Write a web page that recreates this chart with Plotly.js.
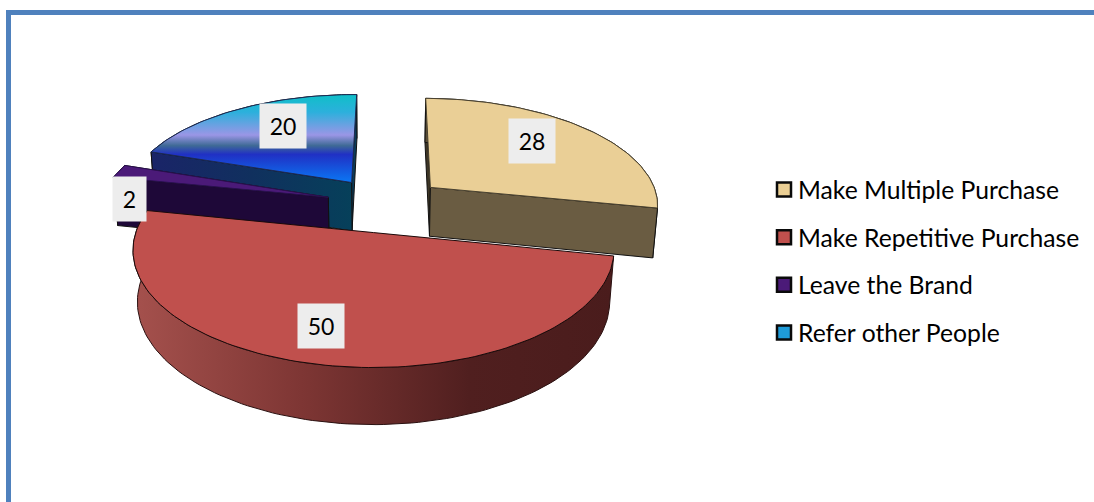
<!DOCTYPE html>
<html><head><meta charset="utf-8">
<script src="https://cdn.plot.ly/plotly-3.0.1.min.js"></script>
<style>html,body{margin:0;padding:0;background:#fff}#c{width:1094px;height:502px}</style>
</head><body><div id="c"></div>
<script>
const categories = ["Make Multiple Purchase","Make Repetitive Purchase","Leave the Brand","Refer other People"];
const values = [28,50,2,20];
const swatchColors = ["#EBCF94","#C0504D","#4B1A78","#1E9BD8"];
const labelRadius = [0.7,0.75,0.96,0.7];
const labelSweep = [0.45,0.52,0.5,0.58];
const labelDepth = [0,0,0.56,0];
const labelWidth = [44,44,31,44];

// camera / projection of the pie
const rotation = 0.6, explosion = 0.26;
const cam = {Xc:376,Yc:233.4,A:238,B:115,H:52,k:0.15,m:0.018};
const centreShift = [0.041,0.262];

const total = values.reduce((a,b)=>a+b,0);
const rad = d=>d*Math.PI/180;
function proj(u,v,z){const w=1+cam.k*v+cam.m*z;return [cam.Xc+cam.A*u/w,cam.Yc+(-cam.B*v+cam.H*z)/w];}
let acc = rotation;
const slices = values.map((val,i)=>{
  const a0=acc,a1=acc+val/total*360;acc=a1;const mid=(a0+a1)/2;
  return {a0,a1,mid,ox:centreShift[0]+explosion*Math.sin(rad(mid)),oy:centreShift[1]+explosion*Math.cos(rad(mid))};
});
function rim(s,a,z){return proj(s.ox+Math.sin(rad(a)),s.oy+Math.cos(rad(a)),z);}
function apex(s,z){return proj(s.ox,s.oy,z);}
function arc(s,a0,a1,z){const n=Math.max(3,Math.ceil(Math.abs(a1-a0)/1.5));const o=[];for(let i=0;i<=n;i++)o.push(rim(s,a0+(a1-a0)*i/n,z));return o;}
function poly(pts,fill,grad,lineC,lineW){
  const x=pts.map(p=>p[0]).concat(pts[0][0]),y=pts.map(p=>p[1]).concat(pts[0][1]);
  const t={type:'scatter',mode:'lines',x,y,fill:'toself',hoverinfo:'skip',showlegend:false,
    line:{color:lineC||'#111',width:lineW===undefined?1:lineW},fillcolor:fill};
  if(grad)t.fillgradient=grad;return t;
}
function radial(s,a,style){return poly([apex(s,0),rim(s,a,0),rim(s,a,1),apex(s,1)],style.fill||style,style.grad);}
function outer(s,style){return poly(arc(s,s.a0,s.a1,0).concat(arc(s,s.a1,s.a0,1)),style.fill||style,style.grad);}
function topFace(s,fill,grad,lc){return poly([apex(s,0)].concat(arc(s,s.a0,s.a1,0)),fill,grad,lc||'#222',1);}

const [sY,sR,sP,sB]=slices;
const blueTop={type:'vertical',colorscale:[[0,'#0A78F5'],[0.32,'#2030C4'],[0.42,'#3F6A96'],[0.54,'#9A96E6'],[0.8,'#2CB0DC'],[1,'#0FBFC8']]};
const blueWall={type:'horizontal',colorscale:[[0,'#1A2468'],[0.5,'#10305E'],[1,'#06405A']]};
const redWall={type:'horizontal',colorscale:[[0,'#A5514D'],[0.35,'#7E3634'],[0.7,'#501F1F'],[1,'#4A1C1C']]};
const traces=[];
// legend entries
categories.forEach((c,i)=>traces.push({type:'scatter',mode:'markers',x:[null],y:[null],name:c,legendgroup:'g'+i,
  marker:{symbol:'square',size:14,color:swatchColors[i],line:{color:'#0a0a0a',width:2.5}},hoverinfo:'skip'}));
// blue
traces.push(outer(sB,'#0A3A55'),radial(sB,sB.a1,'#0B3A58'),radial(sB,sB.a0,{grad:blueWall,fill:'#10305E'}));
traces.push(topFace(sB,'#2090D0',blueTop,'#1c2a55'));
// purple
traces.push(outer(sP,'#1E0A3A'),radial(sP,sP.a1,'#1E0838'),radial(sP,sP.a0,'#1E0838'));
traces.push(topFace(sP,swatchColors[2],null,'#2a1050'));
// yellow
traces.push(radial(sY,sY.a0,'#3E3626'),outer(sY,'#5A4E36'),radial(sY,sY.a1,'#6A5C42'));
traces.push(topFace(sY,'#EACF96',null,'#4a4230'));
// red
traces.push(poly(arc(sR,sR.a0,sR.a1,0).concat(arc(sR,sR.a1,sR.a0,1)),'#7E3634',redWall,'#2a1010',1));
traces.push(topFace(sR,swatchColors[1],null,'#1a0a0a'));

const annotations=values.map((val,i)=>{
  const s=slices[i],a=s.a0+(s.a1-s.a0)*labelSweep[i],r=labelRadius[i];
  const p=proj(s.ox+r*Math.sin(rad(a)),s.oy+r*Math.cos(rad(a)),labelDepth[i]);
  return {x:p[0],y:p[1],xref:'x',yref:'y',text:String(val),showarrow:false,bgcolor:'#EDEDED',
    width:labelWidth[i],height:42,font:{family:'Lato, sans-serif',size:23,color:'#000'},align:'center',valign:'middle'};
});
const layout={width:1094,height:502,margin:{l:0,r:0,t:0,b:0},paper_bgcolor:'#fff',plot_bgcolor:'#fff',
  xaxis:{range:[0,1094],visible:false,fixedrange:true},
  yaxis:{range:[502,0],visible:false,fixedrange:true},
  shapes:[{type:'rect',xref:'x',yref:'y',x0:8.5,y0:12.5,x1:1120,y1:560,line:{color:'#4F81BD',width:5},layer:'below'}],
  annotations,
  legend:{x:758/1094,y:1-167/502,xanchor:'left',yanchor:'top',bgcolor:'rgba(0,0,0,0)',tracegroupgap:12.5,itemwidth:30,
    font:{family:'Lato, sans-serif',size:24.7,color:'#000'}}
};
Plotly.newPlot('c',traces,layout,{displayModeBar:false,staticPlot:true}).then(gd=>{
  gd.querySelectorAll('.legend .legendpoints').forEach(el=>{el.setAttribute('transform','translate(6,0)');});
});
</script></body></html>
